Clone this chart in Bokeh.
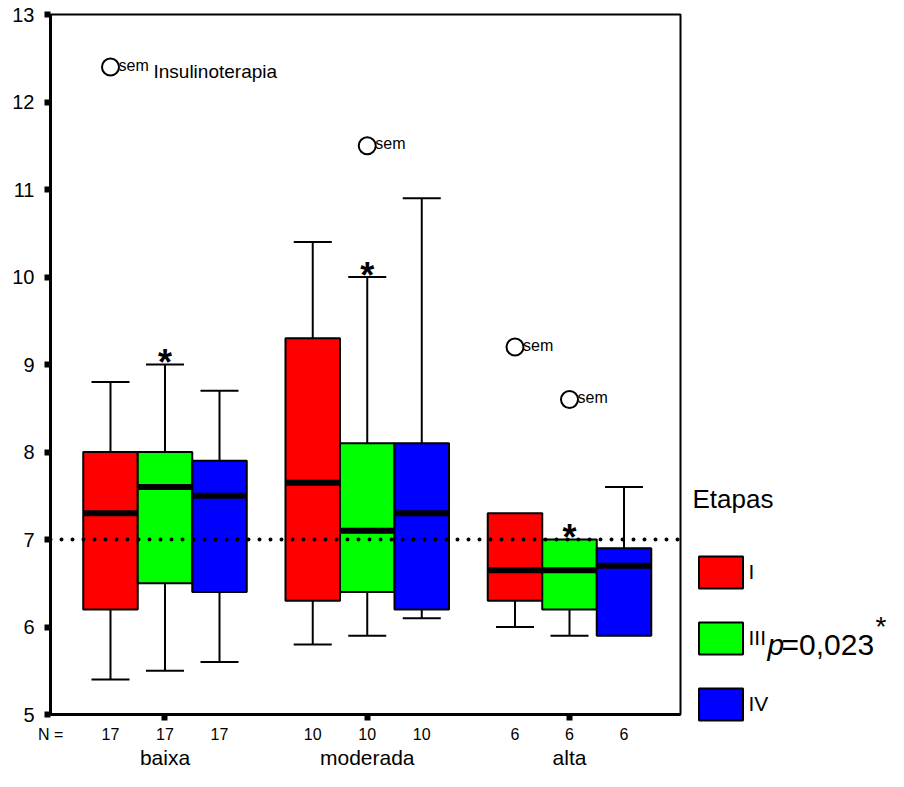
from bokeh.plotting import figure
from bokeh.layouts import row
from bokeh.models import (ColumnDataSource, FixedTicker, Span, Label, Legend,
                          LegendItem, Range1d, LinearAxis)
from bokeh.core.properties import value
from bokeh.embed import file_html
from bokeh.resources import INLINE

# ---------------- data ----------------
groups = ["baixa", "moderada", "alta"]
etapas = ["I", "III", "IV"]
colors = ["#ff0000", "#00ff00", "#0000ff"]
n_per_group = [17, 10, 6]

q1 = {"I": [6.2, 6.3, 6.3], "III": [6.5, 6.4, 6.2], "IV": [6.4, 6.2, 5.9]}
median = {"I": [7.3, 7.65, 6.65], "III": [7.6, 7.1, 6.65], "IV": [7.5, 7.3, 6.7]}
q3 = {"I": [8.0, 9.3, 7.3], "III": [8.0, 8.1, 7.0], "IV": [7.9, 8.1, 6.9]}
whisker_low = {"I": [5.4, 5.8, 6.0], "III": [5.5, 5.9, 5.9], "IV": [5.6, 6.1, 5.9]}
whisker_high = {"I": [8.8, 10.4, 7.3], "III": [9.0, 10.0, 7.0], "IV": [8.7, 10.9, 7.6]}

outlier_group = ["baixa", "moderada", "alta", "alta"]
outlier_etapa = ["I", "III", "I", "III"]
outlier_value = [12.4, 11.5, 9.2, 8.6]
outlier_label = ["sem", "sem", "sem", "sem"]
outlier_note = ["Insulinoterapia", "", "", ""]

star_etapa = "III"
reference_value = 7.0
y_ticks = [5, 6, 7, 8, 9, 10, 11, 12, 13]
n_prefix = "N ="
legend_title = "Etapas"
p_label = "p"
p_value = "=0,023"
p_star = "*"

# ---------------- layout / style ----------------
FONT = "Liberation Sans"
H = 771
MAIN_W = 682
SIDE_W = 206
BOX_W = 0.2695
CAP_W = 0.188
X_START, X_END = 0.4339, 3.5488


def xpos(g, e):
    return groups.index(g) + 1 + (etapas.index(e) - 1) * BOX_W


p = figure(width=MAIN_W, height=H, x_range=Range1d(X_START, X_END),
           y_range=Range1d(5, 13), output_backend="svg",
           toolbar_location=None, min_border_left=50, min_border_right=2,
           min_border_top=14, min_border_bottom=55)
p.background_fill_color = "white"
p.border_fill_color = "white"
p.outline_line_color = "black"
p.outline_line_width = 2
p.xgrid.visible = False
p.ygrid.visible = False

# y axis
p.yaxis.ticker = FixedTicker(ticks=y_ticks)
p.yaxis.axis_line_width = 3
p.yaxis.major_tick_line_width = 6
p.yaxis.major_tick_out = 6
p.yaxis.major_tick_in = 0
p.yaxis.minor_tick_out = 0
p.yaxis.minor_tick_in = 0
p.yaxis.major_label_standoff = 10
p.yaxis.major_label_text_font = FONT
p.yaxis.major_label_text_font_size = "20px"
p.yaxis.major_label_text_color = "black"

# x axis: tick squares at group centers
xa = p.xaxis[0]
xa.ticker = FixedTicker(ticks=[1, 2, 3])
xa.major_label_overrides = {1: "", 2: "", 3: ""}
xa.major_label_text_font_size = "1px"
xa.major_label_standoff = 0
xa.axis_line_width = 3
xa.major_tick_line_width = 6
xa.major_tick_out = 6
xa.major_tick_in = 0
xa.minor_tick_out = 0
xa.minor_tick_in = 0

# N row axis
n_ticks = [X_START + 0.0006]
n_over = {X_START + 0.0006: n_prefix}
for g, n in zip(groups, n_per_group):
    for e in etapas:
        n_ticks.append(xpos(g, e))
        n_over[xpos(g, e)] = str(n)
n_axis = LinearAxis(ticker=FixedTicker(ticks=n_ticks),
                    major_label_overrides=n_over,
                    axis_line_color=None, major_tick_line_color=None,
                    minor_tick_line_color=None, major_tick_out=0,
                    major_tick_in=0, minor_tick_out=0, minor_tick_in=0,
                    major_label_standoff=5, major_label_text_font=FONT,
                    major_label_text_font_size="16px",
                    major_label_text_color="black")
p.add_layout(n_axis, "below")

# category axis
cat_axis = LinearAxis(ticker=FixedTicker(ticks=[1, 2, 3]),
                      major_label_overrides={i + 1: g for i, g in enumerate(groups)},
                      axis_line_color=None, major_tick_line_color=None,
                      minor_tick_line_color=None, major_tick_out=0,
                      major_tick_in=0, minor_tick_out=0, minor_tick_in=0,
                      major_label_standoff=0, major_label_text_font=FONT,
                      major_label_text_font_size="21px",
                      major_label_text_color="black")
p.add_layout(cat_axis, "below")

box_sources = {}
for e, c in zip(etapas, colors):
    xs = [xpos(g, e) for g in groups]
    up = [(x, a, b) for x, a, b in zip(xs, q3[e], whisker_high[e]) if b > a]
    lo = [(x, a, b) for x, a, b in zip(xs, q1[e], whisker_low[e]) if b < a]
    for parts in (up, lo):
        if parts:
            ws = ColumnDataSource(dict(x=[t[0] for t in parts],
                                       y0=[t[1] for t in parts],
                                       y1=[t[2] for t in parts],
                                       cl=[t[0] - CAP_W / 2 for t in parts],
                                       cr=[t[0] + CAP_W / 2 for t in parts]))
            p.segment(x0="x", y0="y0", x1="x", y1="y1", source=ws,
                      line_color="black", line_width=2)
            p.segment(x0="cl", y0="y1", x1="cr", y1="y1", source=ws,
                      line_color="black", line_width=2)
    src = ColumnDataSource(dict(x=xs, q1=q1[e], q3=q3[e], med=median[e],
                                ml=[x - BOX_W / 2 for x in xs],
                                mr=[x + BOX_W / 2 for x in xs]))
    box_sources[e] = src
    p.vbar(x="x", width=BOX_W, top="q3", bottom="q1", source=src,
           fill_color=c, line_color="black", line_width=2)
    p.segment(x0="ml", y0="med", x1="mr", y1="med", source=src,
              line_color="black", line_width=6)

# reference line
p.add_layout(Span(location=reference_value, dimension="width",
                  line_color="black", line_width=4, line_dash="0 11",
                  line_cap="round"))

# outliers
osrc = ColumnDataSource(dict(
    x=[xpos(g, e) for g, e in zip(outlier_group, outlier_etapa)],
    y=outlier_value, label=outlier_label, note=outlier_note))
p.scatter(x="x", y="y", source=osrc, marker="circle", size=17,
          fill_color=None, line_color="black", line_width=2)
p.text(x="x", y="y", text="label", source=osrc, x_offset=8, y_offset=-2,
       text_font=value(FONT), text_font_size="16px", text_color="black",
       text_baseline="middle", text_align="left")
p.text(x="x", y="y", text="note", source=osrc, x_offset=43, y_offset=4,
       text_font=value(FONT), text_font_size="19px", text_color="black",
       text_baseline="middle", text_align="left")

# stars above stage III whiskers
ssrc = ColumnDataSource(dict(x=[xpos(g, star_etapa) for g in groups],
                             y=whisker_high[star_etapa],
                             t=["*"] * len(groups)))
p.text(x="x", y="y", text="t", source=ssrc, y_offset=-2,
       text_font=value(FONT), text_font_size="36px", text_font_style="bold",
       text_color="black", text_align="center", text_baseline="middle")

# ---------------- side panel with legend ----------------
p2 = figure(width=SIDE_W, height=H, x_range=Range1d(0, 1),
            y_range=Range1d(0, 1), output_backend="svg",
            toolbar_location=None, min_border=0,
            x_axis_location=None, y_axis_location=None)
p2.outline_line_color = None
p2.xgrid.visible = False
p2.ygrid.visible = False
p2.background_fill_color = "white"
p2.border_fill_color = "white"

# frame of the side panel: whole canvas when frame alignment can be disabled,
# otherwise it is aligned with the main frame (bottom border 55 px)
if "frame_align" in p2.properties():
    p2.frame_align = False
    DY = 0
else:
    DY = -55

proxy = {}
for e, c in zip(etapas, colors):
    proxy[e] = p2.vbar(x="x", width=BOX_W, top="q3", bottom="q1",
                       source=box_sources[e], fill_color=c,
                       line_color="black", line_width=2, visible=False)

legend = Legend(items=[LegendItem(label=e, renderers=[proxy[e]])
                       for e in etapas],
                location=(10.5, 47 + DY), title=legend_title)
legend.glyph_width = 55
legend.glyph_height = 40
legend.spacing = 26
legend.label_standoff = 1
legend.padding = 0
legend.margin = 0
legend.border_line_alpha = 0
legend.background_fill_alpha = 0
legend.label_text_font = FONT
legend.label_text_font_size = "21px"
legend.label_text_color = "black"
legend.title_text_font = FONT
legend.title_text_font_size = "26px"
legend.title_text_font_style = "normal"
legend.title_text_color = "black"
legend.title_standoff = 37
p2.add_layout(legend)

p2.add_layout(Label(x=85, y=127.5 + DY, x_units="screen", y_units="screen",
                    text=p_label, text_font=FONT, text_font_size="30px",
                    text_font_style="italic", text_baseline="middle",
                    text_color="black"))
p2.add_layout(Label(x=99, y=127.5 + DY, x_units="screen", y_units="screen",
                    text=p_value, text_font=FONT, text_font_size="30px",
                    text_baseline="middle", text_color="black"))
p2.add_layout(Label(x=193, y=145.5 + DY, x_units="screen", y_units="screen",
                    text=p_star, text_font=FONT, text_font_size="28px",
                    text_baseline="middle", text_color="black"))

layout = row(p, p2)
open("out.html", "w").write(file_html(layout, INLINE))
